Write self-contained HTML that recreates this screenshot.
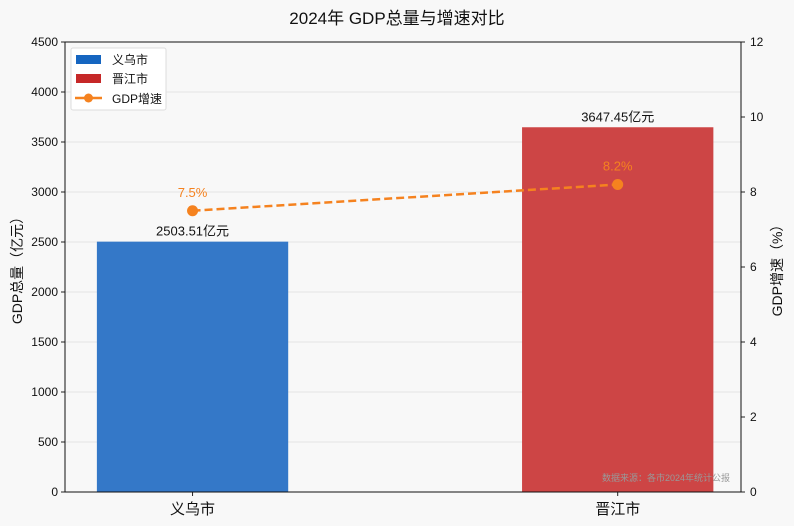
<!DOCTYPE html>
<html><head><meta charset="utf-8"><style>
body{margin:0;background:#f8f8f8;}
svg{display:block;font-family:"Liberation Sans","Noto Sans CJK SC",sans-serif;}
</style></head><body>
<svg id="chart" width="794" height="526">
<rect width="794" height="526" fill="#f8f8f8"/>
<text x="397" y="24" text-anchor="middle" font-size="17" fill="#111">2024年 GDP总量与增速对比</text>
<g id="grid"></g><g id="bars"></g><g id="line"></g><g id="axes"></g>
<text x="730" y="481" text-anchor="end" font-size="9" fill="#999">数据来源：各市2024年统计公报</text>
<text transform="translate(22,267) rotate(-90)" text-anchor="middle" font-size="14" fill="#111">GDP总量（亿元）</text>
<text transform="translate(782,267) rotate(-90)" text-anchor="middle" font-size="14" fill="#111">GDP增速（%）</text>
<g>
<rect x="71" y="48" width="95" height="62" fill="#fff" stroke="#ddd" rx="2"/>
<rect x="76" y="55" width="25" height="9" fill="#1565c0"/>
<text x="112" y="64" font-size="12" fill="#111">义乌市</text>
<rect x="76" y="74" width="25" height="9" fill="#c62828"/>
<text x="112" y="83" font-size="12" fill="#111">晋江市</text>
<line x1="75" y1="98" x2="102" y2="98" stroke="#f5821f" stroke-width="2.5"/>
<circle cx="88.5" cy="98" r="4.5" fill="#f5821f"/>
<text x="112" y="103" font-size="12" fill="#111">GDP增速</text>
</g>
</svg>
<script>
const categories=["义乌市","晋江市"];
const gdpValues=[2503.51,3647.45];
const growthValues=[7.5,8.2];
const leftTicks=[0,500,1000,1500,2000,2500,3000,3500,4000,4500];
const rightTicks=[0,2,4,6,8,10,12];
const NS="http://www.w3.org/2000/svg";
const L=65,R=741,T=42,B=492;
const yL=v=>B-(v/4500)*(B-T);
const yR=v=>B-(v/12)*(B-T);
const xmin=-0.3,xmax=1.29;
const xc=i=>L+(i-xmin)/(xmax-xmin)*(R-L);
const colors=["#3478c8","#cd4545"];
function mk(tag,attrs,parent,text){const e=document.createElementNS(NS,tag);for(const k in attrs)e.setAttribute(k,attrs[k]);if(text!==undefined)e.textContent=text;parent.appendChild(e);return e;}
const grid=document.getElementById('grid'),bars=document.getElementById('bars'),line=document.getElementById('line'),axes=document.getElementById('axes');
leftTicks.forEach(t=>{const g=mk('line',{x1:L,x2:R,y1:yL(t),y2:yL(t),stroke:'#e4e4e4','stroke-width':1},grid);


mk('line',{x1:L-4,x2:L,y1:yL(t),y2:yL(t),stroke:'#222'},axes);
const tx=mk('text',{x:L-7,y:yL(t)+4,'text-anchor':'end','font-size':12,fill:'#111'},axes,t);

});
rightTicks.forEach(t=>{mk('line',{x1:R,x2:R+4,y1:yR(t),y2:yR(t),stroke:'#222'},axes);
const tx=mk('text',{x:R+9,y:yR(t)+4,'font-size':12,fill:'#111'},axes,t);

});
const bw=0.45*(R-L)/(xmax-xmin);
categories.forEach((c,i)=>{const x=xc(i);
const b=mk('rect',{x:x-bw/2,y:yL(gdpValues[i]),width:bw,height:B-yL(gdpValues[i]),fill:colors[i]},bars);


const v=mk('text',{x:x,y:yL(gdpValues[i])-6,'text-anchor':'middle','font-size':13,fill:'#111'},bars,gdpValues[i].toFixed(2)+'亿元');


mk('line',{x1:x,x2:x,y1:B,y2:B+4,stroke:'#222'},axes);
const cl=mk('text',{x:x,y:B+22,'text-anchor':'middle','font-size':15,fill:'#111'},axes,c);

});
const pts=growthValues.map((v,i)=>[xc(i),yR(v)]);
const pl=mk('polyline',{points:pts.map(p=>p.join(',')).join(' '),fill:'none',stroke:'#f5821f','stroke-width':2.5,'stroke-dasharray':'8,4'},line);


pts.forEach((p,i)=>{const c=mk('circle',{cx:p[0],cy:p[1],r:5.5,fill:'#f5821f'},line);


const t=mk('text',{x:p[0],y:p[1]-14,'text-anchor':'middle','font-size':13,fill:'#f5821f'},line,growthValues[i]+'%');

});
const fr=mk('rect',{x:L,y:T,width:R-L,height:B-T,fill:'none',stroke:'#111','stroke-width':1},axes);


</script>
</body></html>
